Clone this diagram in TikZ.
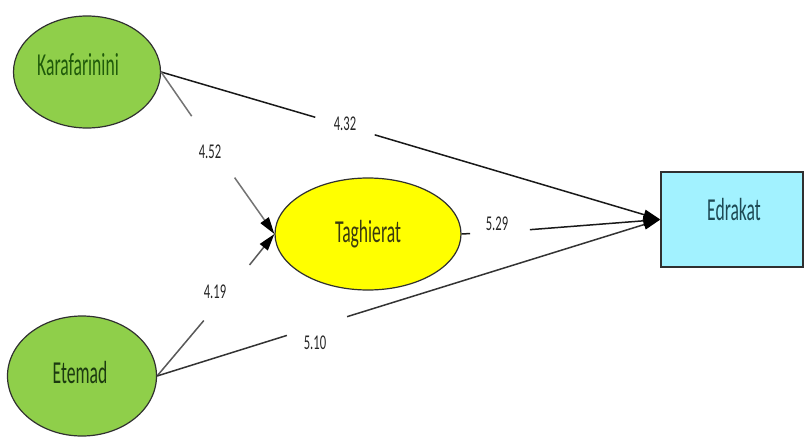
\documentclass[tikz,border=0pt]{standalone}
\usepackage{fontspec}
\newfontfamily\condfont[FakeStretch=0.55]{Carlito}
\newfontfamily\numfont[FakeStretch=0.6]{Carlito}
\usetikzlibrary{arrows.meta,shapes.geometric}

\definecolor{latgreen}{HTML}{8FCF4A}
\definecolor{latyellow}{HTML}{FFFF00}
\definecolor{obscyan}{HTML}{A2F2FF}
\definecolor{rimgray}{HTML}{303030}
\definecolor{kartext}{HTML}{1F5A0A}
\definecolor{etetext}{HTML}{1C3A10}
\definecolor{tagtext}{HTML}{3A3A10}
\definecolor{edrtext}{HTML}{1E4A55}

\tikzset{
  latent/.style={ellipse, draw=rimgray, line width=1.2pt, inner sep=0pt},
  observed/.style={rectangle, draw=rimgray, line width=1.2pt, fill=obscyan,
    minimum width=142pt, minimum height=95pt, inner sep=0pt},
  nametxt/.style={font=\condfont\fontsize{32}{33}\selectfont},
  numtxt/.style={font=\numfont\fontsize{21}{22}\selectfont, text=black!85},
  gap/.style={circle, inner sep=0pt, outer sep=0pt},
  path/.style={line width=1.5pt},
  tip/.style={-{Triangle[length=17pt,width=10pt,color=black]}}
}

\begin{document}
\begin{tikzpicture}[x=1pt,y=-1pt]
\useasboundingbox (0,0) rectangle (805,439);
\fill[white] (0,0) rectangle (805,439);

% constructs
\node[latent, fill=latgreen, minimum width=147pt, minimum height=112pt,
      label={[nametxt, text=kartext, xshift=-9pt, yshift=7pt]center:Karafarinini}]
      (kar) at (87,72) {};
\node[latent, fill=latgreen, minimum width=149pt, minimum height=120pt,
      label={[nametxt, text=etetext, xshift=-2pt, yshift=3pt]center:Etemad}]
      (ete) at (82,376) {};
\node[latent, fill=latyellow, minimum width=186pt, minimum height=112pt,
      label={[nametxt, text=tagtext]center:Taghierat}]
      (tag) at (368,234) {};
\node[observed,
      label={[nametxt, text=edrtext, xshift=2pt, yshift=10pt]center:Edrakat}]
      (edr) at (732,219.5) {};

% coefficient positions (line gaps)
\node[gap, minimum size=62pt,
      label={[numtxt, yshift=2pt]center:4.32}] (g432) at (345,126) {};
\node[gap, minimum size=75pt,
      label={[numtxt, xshift=-3pt, yshift=-5pt]center:4.52}] (g452) at (213,147) {};
\node[gap, minimum size=72pt,
      label={[numtxt, xshift=-12pt, yshift=1pt]center:4.19}] (g419) at (227,293) {};
\node[gap, minimum size=63pt,
      label={[numtxt, xshift=-2pt, yshift=-17pt]center:5.10}] (g510) at (317,326) {};
\node[gap, minimum size=60pt,
      label={[numtxt, xshift=-3pt, yshift=8pt]center:5.29}] (g529) at (500,232) {};

% paths
\draw[path, black!90] (kar.east) -- (g432);
\draw[path, black!90, tip] (g432) -- (edr.west);

\draw[path, black!55] (kar.east) -- (g452);
\draw[path, black!55, tip] (g452) -- (tag.west);

\draw[path, black!65] (ete.east) -- (g419);
\draw[path, black!65, tip] (g419) -- (tag.west);

\draw[path, black!80] (ete.east) -- (g510);
\draw[path, black!80, tip] (g510) -- (edr.west);

\draw[path, black!90] (tag.east) -- (g529);
\draw[path, black!90, tip] (g529) -- (edr.west);
\end{tikzpicture}
\end{document}
